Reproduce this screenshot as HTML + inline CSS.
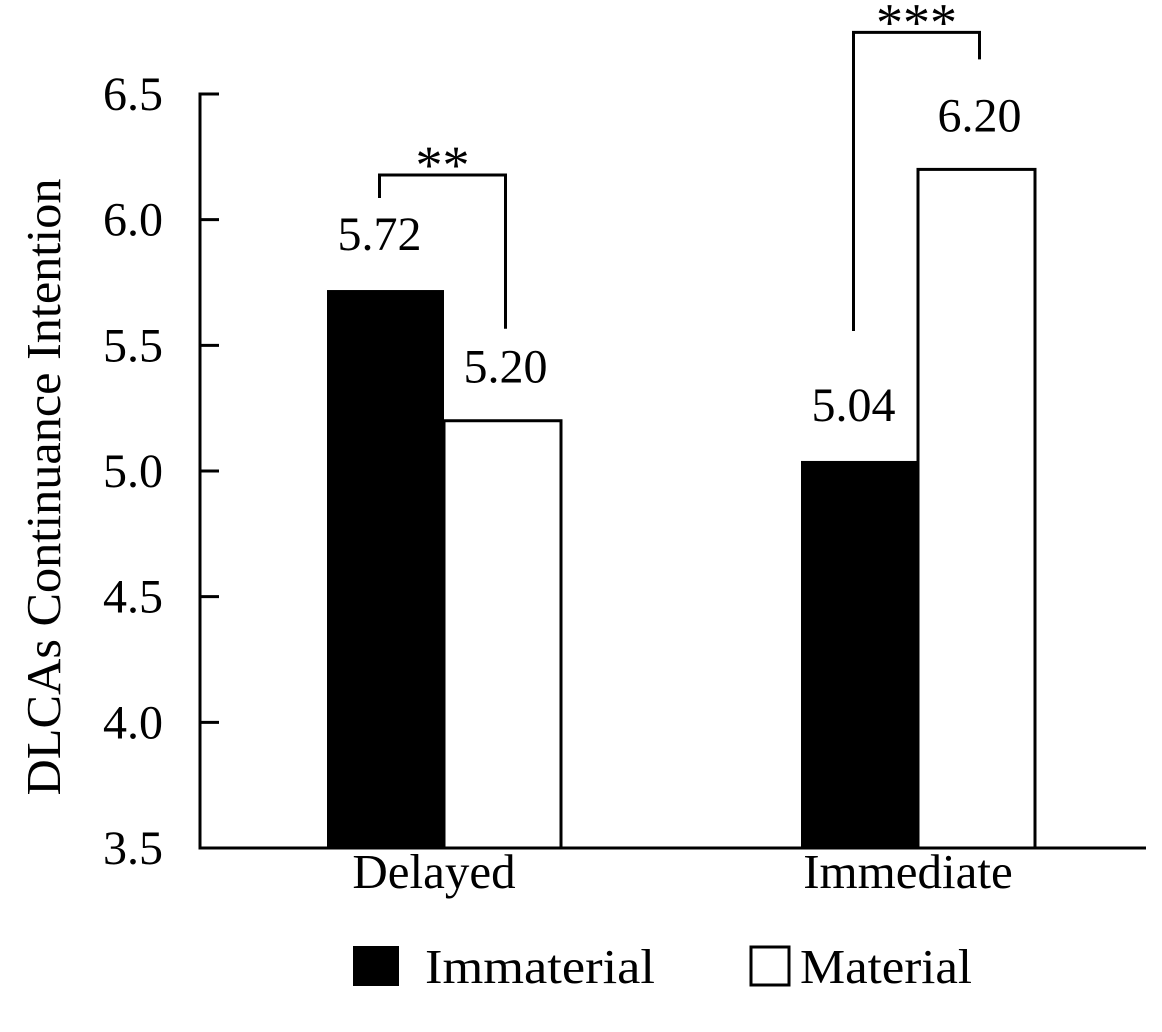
<!DOCTYPE html>
<html><head><meta charset="utf-8"><style>
html,body{margin:0;padding:0;background:#fff;}
svg{display:block;font-family:"Liberation Serif","Times New Roman",serif;}
</style></head><body>
<svg id="chart" width="1162" height="1032" viewBox="0 0 1162 1032" xmlns="http://www.w3.org/2000/svg">
<g id="axes"></g>
<g id="bars"></g>
<g id="labels"></g>
<text transform="translate(60,487) rotate(-90)" text-anchor="middle" font-size="49" textLength="617" lengthAdjust="spacingAndGlyphs">DLCAs Continuance Intention</text>
<g>
  <rect x="353" y="946" width="46" height="40" fill="#000"/>
  <text x="425" y="983" font-size="49" textLength="230" lengthAdjust="spacingAndGlyphs">Immaterial</text>
  <rect x="751" y="947" width="38" height="38" fill="#fff" stroke="#000" stroke-width="3"/>
  <text x="800" y="983" font-size="49" textLength="172" lengthAdjust="spacingAndGlyphs">Material</text>
</g>
</svg>
<script>
const categories = ["Delayed", "Immediate"];
const immaterialValues = [5.72, 5.04];
const materialValues = [5.20, 6.20];
const yTicks = [3.5, 4.0, 4.5, 5.0, 5.5, 6.0, 6.5];
const yTickLabels = ["3.5", "4.0", "4.5", "5.0", "5.5", "6.0", "6.5"];
const sigLabels = ["**", "***"];

const NS = "http://www.w3.org/2000/svg";
const y0 = 848, yTop = 94, vMin = 3.5, vMax = 6.5;
function y(v){ return y0 - (v - vMin) / (vMax - vMin) * (y0 - yTop); }
const groupCenters = [444, 918];
const barW = 117;
const bracketTopGap = [115, 137];
const bracketEndGap = [92, 110];
function mk(tag, attrs, parent){ const e = document.createElementNS(NS, tag); for (const k in attrs) e.setAttribute(k, attrs[k]); parent.appendChild(e); return e; }

const axes = document.getElementById('axes');
const bars = document.getElementById('bars');
const labels = document.getElementById('labels');

let a = mk('line', {x1:200, y1:y(vMax)-1.5, x2:200, y2:y0+1.5, stroke:'#000', 'stroke-width':3}, axes);


a = mk('line', {x1:198.5, y1:y0, x2:1146, y2:y0, stroke:'#000', 'stroke-width':3}, axes);



yTicks.forEach((t, i) => {
  const ty = y(t);
  if (i > 0) {
    const tk = mk('line', {x1:200, y1:ty, x2:219, y2:ty, stroke:'#000', 'stroke-width':3}, axes);
    
    
  }
  const tl = mk('text', {x:163, y:ty + 16, 'text-anchor':'end', 'font-size':48}, axes);
  tl.textContent = yTickLabels[i];
  
  
});

categories.forEach((c, i) => {
  const cx = groupCenters[i];
  const cl = mk('text', {x:cx - 10, y:888, 'text-anchor':'middle', 'font-size':49}, axes);
  cl.textContent = c;
  
  

  const yi = y(immaterialValues[i]), ym = y(materialValues[i]);
  const b1 = mk('rect', {x:cx - barW, y:yi, width:barW, height:y0 - yi, fill:'#000'}, bars);
  
  
  const b2 = mk('rect', {x:cx, y:ym, width:barW, height:y0 - ym, fill:'#fff', stroke:'#000', 'stroke-width':3}, bars);
  
  

  const lx1 = cx - barW/2 - 6, lx2 = cx + barW/2 + 3;
  const l1 = mk('text', {x:lx1, y:yi - 40, 'text-anchor':'middle', 'font-size':48}, labels);
  l1.textContent = immaterialValues[i].toFixed(2);
  
  
  const l2 = mk('text', {x:lx2, y:ym - 38, 'text-anchor':'middle', 'font-size':48}, labels);
  l2.textContent = materialValues[i].toFixed(2);
  
  

  const topY = Math.min(yi, ym) - bracketTopGap[i];
  const leftEnd = yi - bracketEndGap[i] - 20 * i, rightEnd = ym - bracketEndGap[i];
  const br = mk('polyline', {points:`${lx1},${leftEnd} ${lx1},${topY} ${lx2},${topY} ${lx2},${rightEnd}`, fill:'none', stroke:'#000', 'stroke-width':3}, labels);
  
  
  const st = mk('text', {x:(lx1 + lx2)/2, y:topY + 8, 'text-anchor':'middle', 'font-size':54}, labels);
  st.textContent = sigLabels[i];
  
  
});
</script>
</body></html>
